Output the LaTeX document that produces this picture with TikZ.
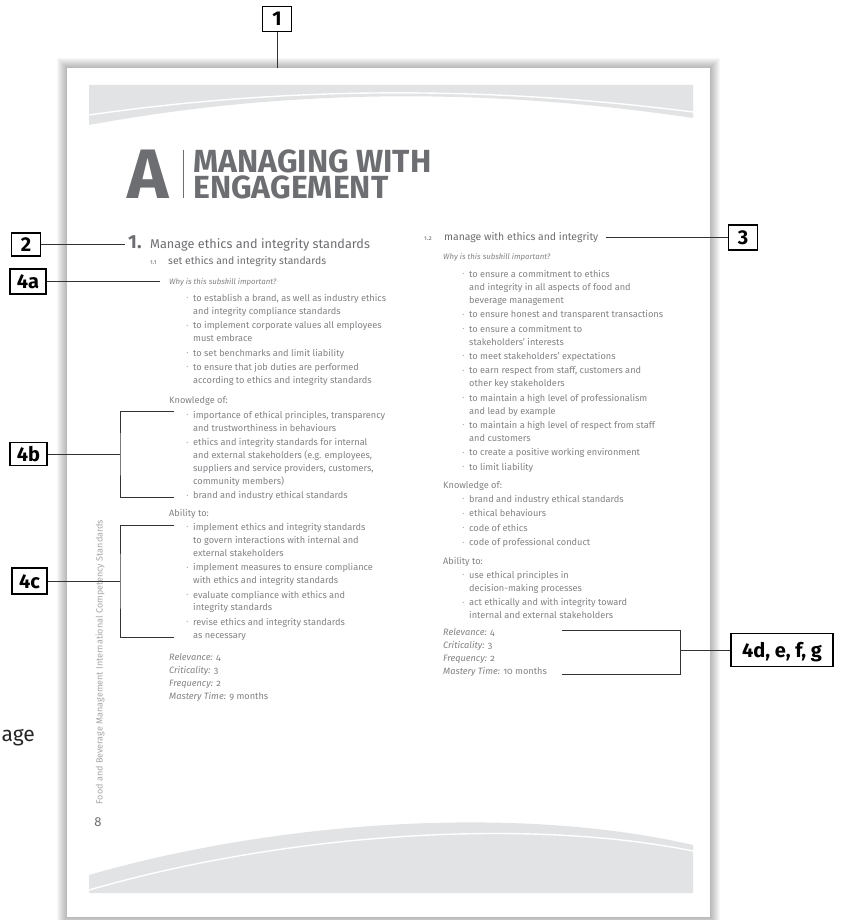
\documentclass[tikz,border=0pt]{standalone}
\usepackage{graphicx}
\usepackage{fontspec}
\setmainfont{Fira Sans}[Numbers=OldStyle]
\newfontfamily\tagfont{Fira Sans}[Numbers=Lining]
\usetikzlibrary{positioning}
\usetikzlibrary{calc}
\definecolor{txtgray}{HTML}{808285}
\definecolor{headgray}{HTML}{6D6E71}
\definecolor{swoosh}{HTML}{E2E3E4}
\definecolor{leadgray}{HTML}{333333}
\tikzset{
    % Boxes holding the callout numbers
    tag/.style={draw, line width=1.1pt, fill=white,
        font=\tagfont\bfseries\fontsize{20}{20}\selectfont,
        inner sep=0pt, minimum height=25pt, minimum width=29pt,
        text height=14pt, text depth=0pt},
%
    % Thin lines running from a callout to the page
    lead/.style={draw=leadgray, line width=0.9pt},
%
    % Running text of the page (multi-line blocks sit on their last line)
    body/.style={font=\fontsize{9.2}{12.9}\selectfont, text=txtgray,
        align=left, inner sep=0pt, anchor=base west},
    % Italic question lines
    question/.style={body, font=\itshape\fontsize{7.8}{12.9}\selectfont},
    % Skill headings
    skill head/.style={body, text=headgray},
    % Chapter title lines
    title line/.style={anchor=base west, inner sep=0, text=headgray,
        font=\tagfont\bfseries\fontsize{32}{32}\selectfont}}
% small bullet hanging left of a list line
\newcommand{\bul}{\llap{\raisebox{0.35ex}{\scalebox{0.5}{\textbullet}}\hspace{5pt}}}

\begin{document}
\begin{tikzpicture}[x=1pt, y=-1pt]
\useasboundingbox (0,0) rectangle (844,920);

% The page with a soft shadow
\foreach \s in {1,...,10}
    \fill[black, opacity=0.03] ({67-\s},{68-\s}) rectangle ({710+\s},{917+\s});
\node[fill=white, inner sep=0, minimum width=643pt, minimum height=849pt,
    anchor=north west] at (67,68) (page) {};

% Grey swooshes at head and foot
\fill[swoosh] (89,85) -- (693,85) -- (693,118)
    .. controls (490,88) and (290,88) .. (89,125) -- cycle;
\draw[white, line width=1.4pt] (89,115) .. controls (290,86) and (490,86) .. (693,112);
\fill[swoosh] (89,893) -- (89,875) .. controls (280,820) and (520,805) .. (693,845)
    -- (693,893) -- cycle;
\draw[white, line width=1.4pt] (89,890) .. controls (290,832) and (530,818) .. (693,851);

% Chapter title
\node[anchor=base west, inner sep=0, text=headgray,
    font=\tagfont\bfseries\fontsize{70}{70}\selectfont] at (127,198) (big a) {A};
\draw[headgray, line width=0.9pt] (183,150) -- (183,198);
\node[title line] at (193,172) (title1) {MANAGING WITH};
\node[title line] at (193,198) (title2) {ENGAGEMENT};

% Left column: skill 1 and subskill 1.1
\node[skill head, font=\tagfont\bfseries\fontsize{19}{19}\selectfont] at (128,248) (h1 num) {1.};
\node[skill head, font=\fontsize{12.7}{13}\selectfont] at (150,248) (h1) {Manage ethics and integrity standards};
\node[skill head, font=\fontsize{6.5}{7}\selectfont] at (150,264.5) (n11) {1.1};
\node[skill head, font=\fontsize{10.4}{11}\selectfont] at (168,264.5) (t11) {set ethics and integrity standards};

\node[question] at (169,284) (why1) {Why is this subskill important?};
\node[body] at (193,383.4) (ul1) {\bul to establish a brand, as well as industry ethics\\
    and integrity compliance standards\\[1.5pt]
    \bul to implement corporate values all employees\\
    must embrace\\[1.5pt]
    \bul to set benchmarks and limit liability\\[1.5pt]
    \bul to ensure that job duties are performed\\
    according to ethics and integrity standards};
\node[body] at (169,403.5) (kn1) {Knowledge of:};
\node[body] at (193,498.9) (ul2) {\bul importance of ethical principles, transparency\\
    and trustworthiness in behaviours\\[1.5pt]
    \bul ethics and integrity standards for internal\\
    and external stakeholders (e.g. employees,\\
    suppliers and service providers, customers,\\
    community members)\\[1.5pt]
    \bul brand and industry ethical standards};
\node[body] at (169,516.5) (ab1) {Ability to:};
\node[body] at (193,638.2) (ul3) {\bul implement ethics and integrity standards\\
    to govern interactions with internal and\\
    external stakeholders\\[1.5pt]
    \bul implement measures to ensure compliance\\
    with ethics and integrity standards\\[1.5pt]
    \bul evaluate compliance with ethics and\\
    integrity standards\\[1.5pt]
    \bul revise ethics and integrity standards\\
    as necessary};
\node[body] at (169,699.6) (rate1) {\textit{Relevance:} 4\\
    \textit{Criticality:} 3\\
    \textit{Frequency:} 2\\
    \textit{Mastery Time:} 9 months};

% Right column: subskill 1.2
\node[skill head, font=\fontsize{6.5}{7}\selectfont] at (424,240) (n12) {1.2};
\node[skill head, font=\fontsize{10.4}{11}\selectfont] at (444,240) (t12) {manage with ethics and integrity};
\node[question] at (443,259.5) (why2) {Why is this subskill important?};
\node[body] at (469,470.1) (ur1) {\bul to ensure a commitment to ethics\\
    and integrity in all aspects of food and\\
    beverage management\\[1.5pt]
    \bul to ensure honest and transparent transactions\\[1.5pt]
    \bul to ensure a commitment to\\
    stakeholders' interests\\[1.5pt]
    \bul to meet stakeholders' expectations\\[1.5pt]
    \bul to earn respect from staff, customers and\\
    other key stakeholders\\[1.5pt]
    \bul to maintain a high level of professionalism\\
    and lead by example\\[1.5pt]
    \bul to maintain a high level of respect from staff\\
    and customers\\[1.5pt]
    \bul to create a positive working environment\\[1.5pt]
    \bul to limit liability};
\node[body] at (443,488.5) (kn2) {Knowledge of:};
\node[body] at (469,545.7) (ur2) {\bul brand and industry ethical standards\\[1.5pt]
    \bul ethical behaviours\\[1.5pt]
    \bul code of ethics\\[1.5pt]
    \bul code of professional conduct};
\node[body] at (443,564.5) (ab2) {Ability to:};
\node[body] at (469,618.7) (ur3) {\bul use ethical principles in\\
    decision-making processes\\[1.5pt]
    \bul act ethically and with integrity toward\\
    internal and external stakeholders};
\node[body] at (443,674.6) (rate2) {\textit{Relevance:} 4\\
    \textit{Criticality:} 3\\
    \textit{Frequency:} 2\\
    \textit{Mastery Time:} 10 months};

% Margin text, folio and the cut-off word beside the page
\node[body, anchor=center, rotate=90, text=black!35,
    font=\fontsize{9}{9}\selectfont] at (100,662) (margin)
    {Food and Beverage Management International Competency Standards};
\node[body, anchor=center, text=headgray, font=\tagfont\fontsize{13}{13}\selectfont]
    at (98,822) (folio) {8};
\node[body, anchor=base east, text=black!85, font=\fontsize{21}{21}\selectfont]
    at (35,741) (cut word) {age};

% Callouts
\node[tag] at (277,19) (lab1) {1};
\node[tag, minimum height=23pt] at (26,244.5) (lab2) {2};
\node[tag] at (743,237.5) (lab3) {3};
\node[tag, minimum width=36pt] at (28,281.5) (lab4a) {4a};
\node[tag, minimum width=37pt, minimum height=23pt] at (28.5,454) (lab4b) {4b};
\node[tag, minimum width=35pt, minimum height=26pt] at (29.5,581) (lab4c) {4c};
\node[tag, minimum width=102pt, minimum height=33pt] at (782,650) (lab4d) {4d, e, f, g};

\draw[lead] (lab1) -- (lab1 |- page.north);
\draw[lead] (lab2) -- ([xshift=-3pt]lab2 -| h1 num.west);
\draw[lead] (lab3) -- ([xshift=7pt]lab3 -| t12.east);
\draw[lead] (lab4a) -- ([xshift=-9pt]lab4a -| why1.west);

% Brackets round the knowledge, ability and rating groups
\coordinate (kn top) at (174,411);
\coordinate (kn bot) at (174,497);
\coordinate (kn spine) at (120,454);
\draw[lead] (kn top) -| (kn spine) |- (kn bot);
\draw[lead] (lab4b) -- (kn spine);

\coordinate (ab top) at (174,525);
\coordinate (ab bot) at (174,637);
\coordinate (ab spine) at (120,581);
\draw[lead] (ab top) -| (ab spine) |- (ab bot);
\draw[lead] (lab4c) -- (ab spine);

\coordinate (rate top) at (562,630);
\coordinate (rate bot) at (562,674);
\coordinate (rate spine) at (680,650);
\draw[lead] (rate top) -| (rate spine) |- (rate bot);
\draw[lead] (lab4d) -- (rate spine);
\end{tikzpicture}
\end{document}
